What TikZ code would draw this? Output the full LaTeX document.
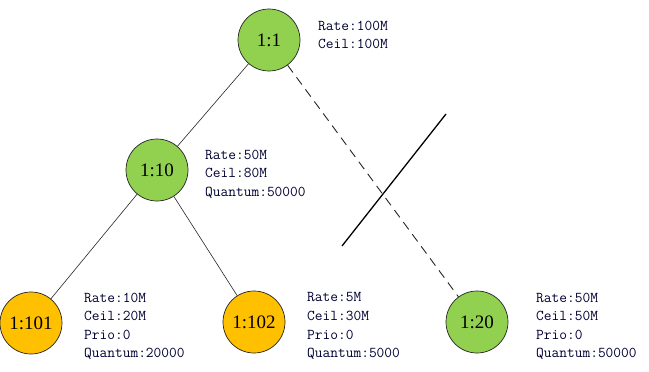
\documentclass[tikz,border=0pt]{standalone}
\usepackage{fontspec}
\newfontfamily\circfont{Liberation Serif}
\tikzset{
  qnode/.style={circle,draw=black!85,line width=0.7pt,minimum size=62pt,inner sep=0pt,font=\circfont\fontsize{19}{19}\selectfont},
  gnode/.style={qnode,fill=grn},
  onode/.style={qnode,fill=org},
  lbl/.style={anchor=north west,align=left,inner sep=0pt,font=\ttfamily\fontsize{15}{18.6}\selectfont,text=black!80!blue},
  edge/.style={draw=black!85,line width=0.6pt}
}
\definecolor{grn}{HTML}{92D050}
\definecolor{org}{HTML}{FFC000}
\begin{document}
\begin{tikzpicture}[x=1pt,y=-1pt]
\useasboundingbox (0,0) rectangle (649,372);
\node[gnode] (n1) at (269,40) {1:1};
\node[gnode] (n10) at (157,170) {1:10};
\node[onode] (n101) at (31,323) {1:101};
\node[onode] (n102) at (254,322) {1:102};
\node[gnode] (n20) at (477,322) {1:20};
\draw[edge] (n1) -- (n10);
\draw[edge] (n10) -- (n101);
\draw[edge] (n10) -- (n102);
\draw[edge,dash pattern=on 9pt off 6pt,line width=0.9pt] (n1) -- (n20);
\coordinate (c1) at (342,246);
\coordinate (c2) at (446,114);
\draw[line width=1.3pt] (c1) -- (c2);
\node[lbl] (l1) at (318,20.5) {Rate:100M\\Ceil:100M};
\node[lbl] (l10) at (205,149.5) {Rate:50M\\Ceil:80M\\Quantum:50000};
\node[lbl] (l101) at (84,292.5) {Rate:10M\\Ceil:20M\\Prio:0\\Quantum:20000};
\node[lbl] (l102) at (307,292.5) {Rate:5M\\Ceil:30M\\Prio:0\\Quantum:5000};
\node[lbl] (l20) at (536,292.5) {Rate:50M\\Ceil:50M\\Prio:0\\Quantum:50000};
\end{tikzpicture}
\end{document}
